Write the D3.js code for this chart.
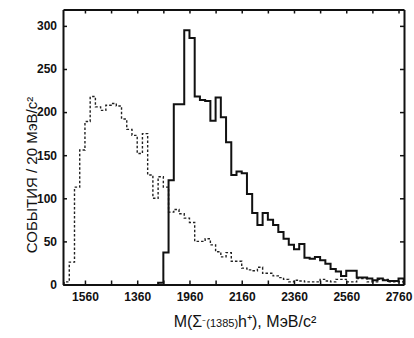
<!DOCTYPE html>
<html>
<head>
<meta charset="utf-8">
<script src="https://cdn.jsdelivr.net/npm/d3@7"></script>
<style>
  body { margin: 0; background: #fff; }
  svg { display: block; }
  .tick text { font-family: "Liberation Sans", Arial, sans-serif; font-weight: bold; font-size: 12px; fill: #111; }
  .domain, .tick line { stroke: #111; }
</style>
</head>
<body>
<svg id="chart" width="414" height="338"></svg>
<script>
// Histogram data, 20 MeV bins
const binWidth = 20;

// solid histogram, first bin starts at 1840
const solidStart = 1840;
const solidCounts = [
  2, 37, 121, 209, 209, 295, 286, 218, 214, 213,
  190, 217, 194, 165, 127, 131, 129, 105, 83, 69,
  83, 75, 69, 61, 53, 46, 41, 47, 31, 30,
  32, 28, 24, 18, 15, 10, 16, 16, 8, 8,
  7, 5, 7, 5, 4, 4, 7
];

// dashed histogram, first bin starts at 1480
const dashedStart = 1480;
const dashedCounts = [
  3, 26, 113, 156, 189, 218, 206, 202, 208, 210,
  207, 192, 180, 173, 152, 175, 127, 100, 125, 113,
  84, 87, 82, 77, 72, 50, 50, 53, 46, 38,
  32, 37, 27, 27, 19, 17, 16, 20, 13, 13,
  10, 8, 6, 3, 5, 4, 3, 3, 3, 6,
  4, 3, 6, 6, 3, 3, 7, 7, 3, 3,
  6, 6, 3, 3, 3
];

const yTicks = [0, 50, 100, 150, 200, 250, 300];
const xTicks = [1560, 1660, 1760, 1860, 1960, 2060, 2160, 2260, 2360, 2460, 2560, 2660, 2760];
const xTickLabels = ["1560", "", "1360", "", "1960", "", "2160", "", "2360", "", "2560", "", "2760"];

const svg = d3.select("#chart");

const x = d3.scaleLinear().domain([1476, 2781]).range([63, 404]);
const y = d3.scaleLinear().domain([0, 319]).range([284.5, 9.5]);

// turn counts into a closed step outline
const stepPoints = (start, counts) => {
  const pts = [[start, 0]];
  counts.forEach((c, i) => pts.push([start + i * binWidth, c]));
  const end = start + counts.length * binWidth;
  pts.push([end, counts[counts.length - 1]]);
  pts.push([end, 0]);
  return pts;
};

const line = d3.line()
  .x(d => x(d[0]))
  .y(d => y(d[1]))
  .curve(d3.curveStepAfter);

svg.append("path")
  .attr("d", line(stepPoints(dashedStart, dashedCounts)))
  .attr("fill", "none")
  .attr("stroke", "#222")
  .attr("stroke-width", 1.4)
  .attr("stroke-dasharray", "2.5,2");

svg.append("path")
  .attr("d", line(stepPoints(solidStart, solidCounts)))
  .attr("fill", "none")
  .attr("stroke", "#111")
  .attr("stroke-width", 2);

// frame with inward ticks
const styleAxis = g => {
  g.select(".domain").attr("stroke-width", 2);
  g.selectAll(".tick line").attr("stroke-width", 1.5);
};

svg.append("g")
  .attr("transform", "translate(63,0)")
  .call(d3.axisLeft(y).tickValues(yTicks).tickSize(-4).tickSizeOuter(0).tickPadding(6))
  .call(styleAxis);

svg.append("g")
  .attr("transform", "translate(404,0)")
  .call(d3.axisRight(y).tickValues(yTicks).tickSize(-4).tickSizeOuter(0).tickFormat(""))
  .call(styleAxis);

svg.append("g")
  .attr("transform", "translate(0,284.5)")
  .call(d3.axisBottom(x).tickValues(xTicks).tickSize(-4).tickSizeOuter(0).tickPadding(8)
    .tickFormat((d, i) => xTickLabels[i]))
  .call(styleAxis);

svg.append("g")
  .attr("transform", "translate(0,9.5)")
  .call(d3.axisTop(x).tickValues(xTicks).tickSize(-4).tickSizeOuter(0).tickFormat(""))
  .call(styleAxis);

// axis titles
svg.append("text")
  .attr("transform", "translate(37,175) rotate(-90)")
  .attr("text-anchor", "middle")
  .style("font-family", "'Liberation Sans', Arial, sans-serif")
  .style("font-size", "15px")
  .style("fill", "#111")
  .text("СОБЫТИЯ / 20 МэВ/с²");

const xTitle = svg.append("text")
  .attr("x", 245)
  .attr("y", 327)
  .attr("text-anchor", "middle")
  .style("font-family", "'Liberation Sans', Arial, sans-serif")
  .style("font-size", "16px")
  .style("fill", "#111");
xTitle.append("tspan").text("M(Σ");
xTitle.append("tspan").style("font-size", "11px").text("⁻(1385)");
xTitle.append("tspan").text("h⁺), МэВ/с²");
</script>
</body>
</html>
